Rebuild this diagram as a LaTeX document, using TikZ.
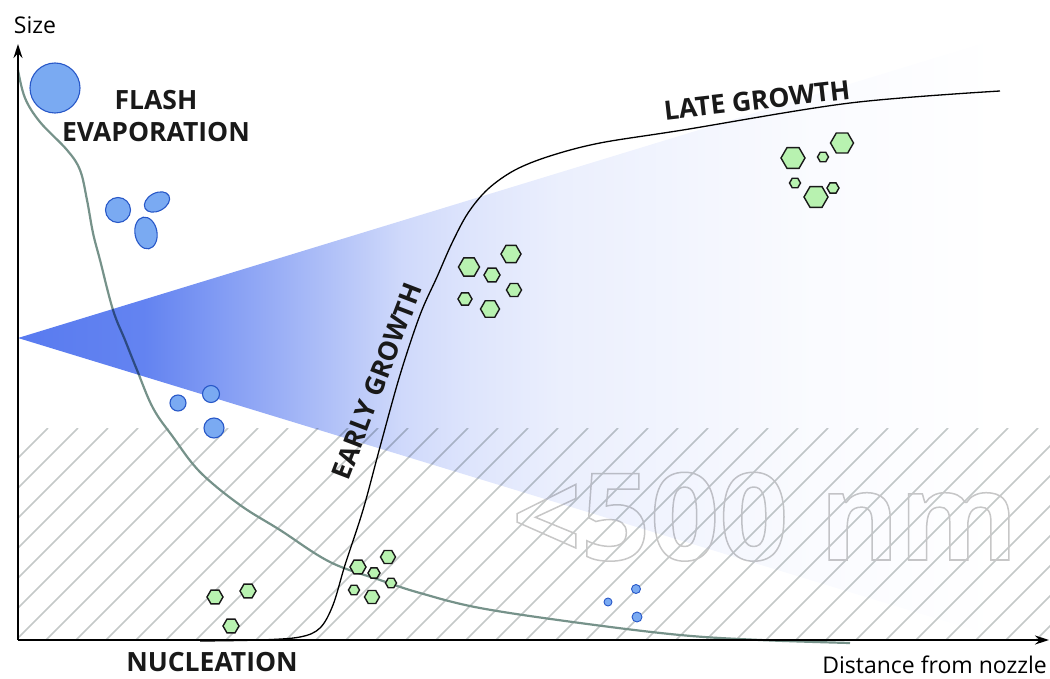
\documentclass[tikz,border=0pt]{standalone}
\usepackage{fontspec}
\setmainfont{Open Sans}
\usetikzlibrary{arrows.meta,shapes.geometric,positioning}

\definecolor{coneblue}{RGB}{70,108,238}
\definecolor{dropfill}{RGB}{122,170,242}
\definecolor{dropedge}{RGB}{40,88,200}
\definecolor{hexfill}{RGB}{184,242,176}
\definecolor{sizecurve}{RGB}{118,146,138}
\definecolor{hatchgray}{RGB}{196,201,200}

% spray cone: blue at the nozzle, white far away (drawn with multiply)
% (the path is fitted to the 25bp..75bp part of the shading)
\pgfdeclarehorizontalshading{coneshade}{100bp}{%
	color(0bp)=(coneblue!90!white); color(25bp)=(coneblue!90!white);
	color(31.5bp)=(coneblue!84!white); color(37.5bp)=(coneblue!58!white);
	color(44.5bp)=(coneblue!26!white); color(48bp)=(coneblue!18!white);
	color(52.5bp)=(coneblue!11!white); color(65bp)=(coneblue!3!white);
	color(75bp)=(white); color(100bp)=(white)}

\tikzset{%
	>={Stealth[width=9pt,length=14pt]},
	% droplets, crystals and labels
	drop/.style = {circle, draw=dropedge, fill=dropfill, line width=1.1pt, inner sep=0pt},
	dropoval/.style = {ellipse, draw=dropedge, fill=dropfill, line width=1.1pt, inner sep=0pt},
	crystal/.style = {regular polygon, regular polygon sides=6, draw=black!90,
		fill=hexfill, line width=1.4pt, inner sep=0pt},
	stage/.style = {font=\bfseries\fontsize{26.5}{32}\selectfont, text=black!90, inner sep=0pt, align=center},
	axislabel/.style = {font=\fontsize{23}{27}\selectfont, inner sep=0pt},
	hatch/.style = {hatchgray, line width=1.5pt},
}
\pgfdeclarelayer{background}
\pgfsetlayers{background,main}

\begin{document}
\begin{tikzpicture}[x=1pt, y=-1pt]
\useasboundingbox (0,0) rectangle (1050,679);

\coordinate (origin) at (18,640);
\coordinate (ytip)   at (18,44);
\coordinate (xtip)   at (1049,640);
\coordinate (apex)   at (18,338);

\begin{pgfonlayer}{background}
%% hatched band of small particles
\begin{scope}
\clip (18,428) rectangle (1050,640);
\foreach \k in {0,...,43}
	\draw[hatch] ({\k*30-194},640) -- ++(212,-212);
\end{scope}

%% droplet size
\draw[sizecurve, line width=2.2pt] plot[smooth, tension=0.6] coordinates {(18,70) (25,98) (40,122) (67,150) (80,170) (87,200) (93,233) (100,260) (113,310) (125,340) (137,370) (153,408) (173,437) (200,472) (240,505) (280,530) (330,562) (380,580) (420,593) (480,608) (580,623) (680,635) (760,640) (850,643)};

\node (limit) [font=\bfseries\fontsize{121}{121}\selectfont, text=black!22, inner sep=0pt, anchor=base] at (765,560)
	{\special{pdf:literal direct q 1 Tr 1.5 w}<500 nm\special{pdf:literal direct Q}};

%% spray cone
\shade[shading=coneshade, blend mode=multiply] (apex) -- (1000,38) -- (1000,638) -- cycle;
\end{pgfonlayer}

%% particle size
\draw[black, line width=1.3pt] plot[smooth, tension=0.55] coordinates {(200,641) (260,640) (300,637) (320,628) (333,605) (345,565) (363,510) (380,447) (400,375) (420,315) (437,277) (452,243) (468,213) (488,189) (515,170) (550,156) (600,143) (683,130) (850,103) (1000,91)};

%% droplets
\node (drop1) [drop, minimum size=50pt] at (55,88) {};
\node (drop2) [drop, minimum size=25pt] at (118,210) {};
\node (drop3) [dropoval, minimum width=27pt, minimum height=18pt, rotate=28] at (157,202) {};
\node (drop4) [dropoval, minimum width=22pt, minimum height=32pt, rotate=10] at (146,233) {};
\node (drop5) [drop, minimum size=16pt] at (178,403) {};
\node (drop6) [drop, minimum size=17pt] at (211,394) {};
\node (drop7) [drop, minimum size=20pt] at (214,428) {};
\node (drop8) [drop, minimum size=8pt, line width=0.9pt] at (608,602) {};
\node (drop9) [drop, minimum size=9pt, line width=0.9pt] at (636,589) {};
\node (drop10) [drop, minimum size=10pt, line width=0.9pt] at (637,617) {};

%% crystals
\node (nucA) [crystal, minimum size=16pt] at (215,597) {};
\node (nucB) [crystal, minimum size=16pt] at (248,591) {};
\node (nucC) [crystal, minimum size=16pt] at (231,626) {};

\node (earlyA) [crystal, minimum size=16pt] at (358,567) {};
\node (earlyB) [crystal, minimum size=15pt] at (388,557) {};
\node (earlyC) [crystal, minimum size=12pt] at (374,573) {};
\node (earlyD) [crystal, minimum size=11pt] at (391,583) {};
\node (earlyE) [crystal, minimum size=11pt] at (354,590) {};
\node (earlyF) [crystal, minimum size=15pt] at (372,597) {};

\node (midA) [crystal, minimum size=21pt] at (469,267) {};
\node (midB) [crystal, minimum size=20pt] at (511,254) {};
\node (midC) [crystal, minimum size=16pt] at (492,275) {};
\node (midD) [crystal, minimum size=15pt] at (514,290) {};
\node (midE) [crystal, minimum size=14pt] at (465,299) {};
\node (midF) [crystal, minimum size=19pt] at (490,309) {};

\node (lateA) [crystal, minimum size=24pt] at (793,158) {};
\node (lateB) [crystal, minimum size=23pt] at (842,143) {};
\node (lateC) [crystal, minimum size=11pt] at (823,157) {};
\node (lateD) [crystal, minimum size=11pt] at (795,183) {};
\node (lateE) [crystal, minimum size=24pt] at (816,197) {};
\node (lateF) [crystal, minimum size=12pt] at (833,188) {};

%% stage labels
\node (flash)   [stage] at (156,116) {FLASH\\EVAPORATION};
\node (late)    [stage, rotate=6.5] at (757,100) {LATE GROWTH};
\node (early)   [stage, rotate=69] at (377,381) {EARLY GROWTH};
\node (nucl)    [stage] at (212,662) {NUCLEATION};

%% axes
\draw[->, line width=1.5pt] (origin) -- (ytip);
\draw[->, line width=1.5pt] (origin) -- (xtip);
\node (ylabel) [axislabel] at (35,25) {Size};
\node (xlabel) [axislabel, anchor=east] at (1047,665) {Distance from nozzle};
\end{tikzpicture}
\end{document}
